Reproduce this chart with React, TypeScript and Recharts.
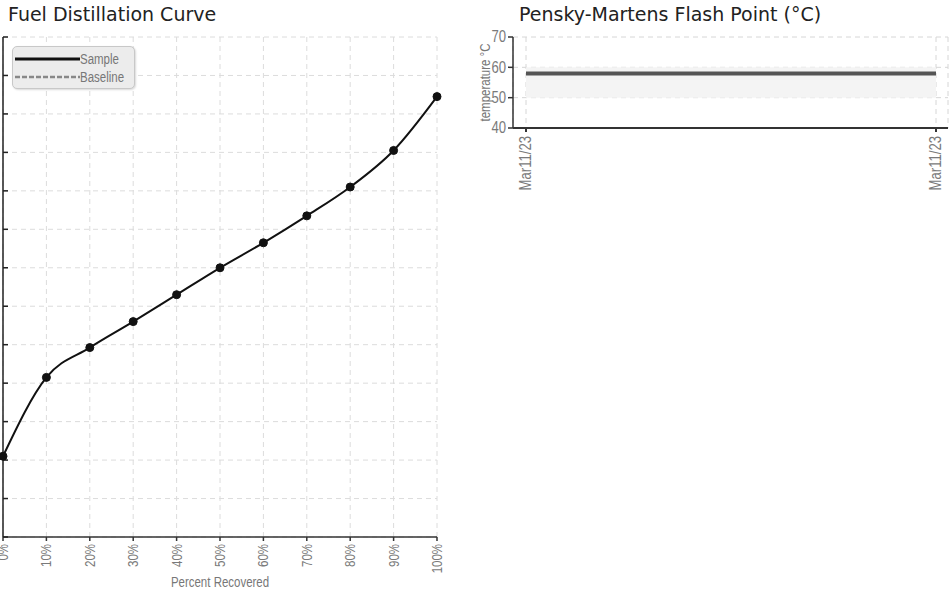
import { LineChart, Line, XAxis, YAxis, CartesianGrid, ReferenceArea, Label } from "recharts";

// Fuel distillation curve
const recovered = [0, 10, 20, 30, 40, 50, 60, 70, 80, 90, 100];
const sampleTemp = [142, 183, 198.5, 212, 226, 240, 253, 267, 282, 301, 329];
const distYTicks = [100, 120, 140, 160, 180, 200, 220, 240, 260, 280, 300, 320, 340, 360];
const legendItems = [
  { name: "Sample", color: "#111", dash: "" },
  { name: "Baseline", color: "#888", dash: "5 2" },
];

// Pensky-Martens flash point
const flashDates = ["Mar11/23", "Mar11/23"];
const flashTemps = [58, 58];
const flashYTicks = [40, 50, 60, 70];
const flashBand = [50, 60];

const NARROW = '"Liberation Sans", Arial, sans-serif';
const SQUEEZE = 0.82; // fake a narrow face by squeezing Liberation Sans
const TITLE_FONT = '"DejaVu Sans", Verdana, sans-serif';

const distData = recovered.map((p, i) => ({ pct: p, sample: sampleTemp[i] }));
const flashData = flashDates.map((d, i) => ({ i, date: d, temp: flashTemps[i] }));

// narrow text drawn at (x,y), optionally rotated
const NText = ({ x, y, angle = 0, anchor = "middle", baseline = "central", size, fill = "#7a7a7a", children }: any) => (
  <g transform={`translate(${x},${y}) rotate(${angle}) scale(${SQUEEZE},1)`}>
    <text x={0} y={0} textAnchor={anchor} dominantBaseline={baseline} fill={fill} fontSize={size} fontFamily={NARROW}>
      {children}
    </text>
  </g>
);

const RotTick = ({ x, y, payload, fmt, size }: any) => (
  <NText x={x} y={y} angle={-90} anchor="end" size={size}>{fmt(payload.value)}</NText>
);

const LeftTick = ({ x, y, payload, size }: any) => (
  <NText x={x} y={y} anchor="end" size={size}>{payload.value}</NText>
);

const LegendBox = () => (
  <div style={{ position: "absolute", left: 12, top: 46, background: "#ececec", border: "1px solid #c8c8c8", borderRadius: 5,
    boxShadow: "1px 1px 2px rgba(0,0,0,0.15)", width: 123, height: 43, padding: "3px 0 0 2px", boxSizing: "border-box",
    fontFamily: NARROW, fontSize: 14, color: "#777" }}>
    {legendItems.map(({ name, color, dash }) => (
      <div key={name} style={{ display: "flex", alignItems: "center", height: 18 }}>
        <svg width={65} height={6} style={{ display: "block" }}>
          <line x1={0} y1={3} x2={65} y2={3} stroke={color} strokeWidth={dash ? 2.5 : 3} strokeDasharray={dash} />
        </svg>
        <span style={{ lineHeight: "18px", display: "inline-block", transform: `scaleX(${SQUEEZE})`, transformOrigin: "left center" }}>{name}</span>
      </div>
    ))}
  </div>
);

export default function App() {
  return (
    <div style={{ position: "absolute", left: 0, top: 0, width: 952, height: 613, background: "#fff", overflow: "hidden" }}>
      <div style={{ position: "absolute", left: 8, top: 3, fontFamily: TITLE_FONT, fontSize: 19, lineHeight: "22px", color: "#222" }}>
        Fuel Distillation Curve
      </div>
      <div style={{ position: "absolute", left: 519, top: 3, fontFamily: TITLE_FONT, fontSize: 19, lineHeight: "22px", color: "#222" }}>
        Pensky-Martens Flash Point (°C)
      </div>

      {/* Distillation chart */}
      <div style={{ position: "absolute", left: 0, top: 0 }}>
        <LineChart width={460} height={613} data={distData} margin={{ top: 37, right: 23, left: 3, bottom: 16 }}>
          <CartesianGrid stroke="#dcdcdc" strokeDasharray="5 4" />
          <XAxis dataKey="pct" type="number" domain={[0, 100]} ticks={recovered} height={60}
            stroke="#333" strokeWidth={1.5} tickSize={4} tickMargin={3} interval={0}
            tick={<RotTick fmt={(v: number) => `${v}%`} size={14} />}>
            <Label position="insideBottom"
              content={({ viewBox }: any) => (
                <NText x={viewBox.x + viewBox.width / 2} y={viewBox.y + 45} size={14} fill="#777">Percent Recovered</NText>
              )} />
          </XAxis>
          <YAxis type="number" domain={[100, 360]} ticks={distYTicks} mirror stroke="#222" strokeWidth={1.5}
            tickSize={5} tickFormatter={() => ""} interval={0} />
          <Line type="monotone" dataKey="sample" name="Sample" stroke="#111" strokeWidth={2}
            dot={{ r: 4, fill: "#111", stroke: "#111", strokeWidth: 1 }} isAnimationActive={false} />
        </LineChart>
        <LegendBox />
      </div>

      {/* Flash point chart */}
      <div style={{ position: "absolute", left: 460, top: 0 }}>
        <LineChart width={492} height={240} data={flashData} margin={{ top: 37, right: 4, left: 0, bottom: 41 }}>
          <ReferenceArea y1={flashBand[0]} y2={flashBand[1]} fill="#f4f4f4" fillOpacity={1} stroke="none" />
          <CartesianGrid stroke="#d6d6d6" strokeDasharray="5 4" />
          <XAxis dataKey="i" type="number" domain={[0, 1]} ticks={[0, 1]} padding={{ left: 13, right: 12 }}
            height={71} stroke="#333" strokeWidth={2} tickSize={4} tickMargin={4} interval={0}
            tick={<RotTick fmt={(v: number) => flashDates[v]} size={16} />} />
          <YAxis type="number" domain={[40, 70]} ticks={flashYTicks} width={53} stroke="#333" strokeWidth={1.5}
            tickSize={5} tickMargin={2} interval={0} tick={<LeftTick size={16} />}>
            <Label position="center"
              content={({ viewBox }: any) => (
                <NText x={viewBox.x + viewBox.width / 2 - 1} y={viewBox.y + viewBox.height / 2} angle={-90} size={14} fill="#777">
                  temperature °C
                </NText>
              )} />
          </YAxis>
          <Line type="linear" dataKey="temp" stroke="#555" strokeWidth={4} dot={false} isAnimationActive={false} />
        </LineChart>
      </div>
    </div>
  );
}
